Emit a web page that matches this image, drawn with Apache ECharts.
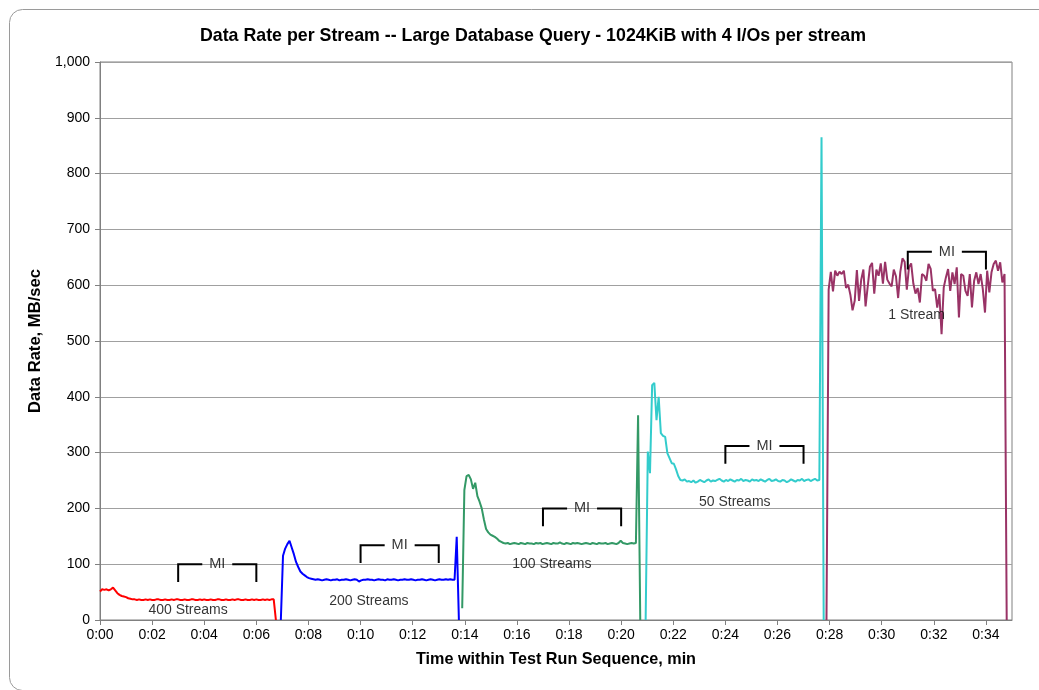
<!DOCTYPE html>
<html>
<head>
<meta charset="utf-8">
<script src="https://cdn.jsdelivr.net/npm/echarts@6/dist/echarts.min.js"></script>
<style>
html,body{margin:0;padding:0;background:#fff;}
#chart{width:1039px;height:690px;}
</style>
</head>
<body>
<div id="chart"></div>
<script>
// ---- data ----
const STEP_MIN = 1 / 12; // 5-second samples, in minutes
const xTickValues = [0, 2, 4, 6, 8, 10, 12, 14, 16, 18, 20, 22, 24, 26, 28, 30, 32, 34];
const seriesNames = ['400 Streams', '200 Streams', '100 Streams', '50 Streams', '1 Stream'];
const seriesColors = ['#ff0000', '#0000ff', '#339966', '#33cccc', '#993366'];
const seriesStart = [0, 6.94, 13.9, 20.94, 27.88]; // minutes

const rate400 = [
  51,55,54,55,53,55,58,53,48,45,
  43,42,41,39,38,37,37,36,37,36,
  36,37,36,37,36,36,37,37,36,36,
  37,36,36,37,36,37,37,36,36,37,
  36,36,37,37,36,36,37,36,37,36,
  36,37,36,36,37,37,36,36,37,36,
  36,37,36,37,37,36,36,37,36,36,
  37,36,37,36,36,37,36,37,36,37,
  37,0
];
const rate200 = [
  0,115,128,136,142,130,118,104,95,87,
  83,80,77,75,74,73,72,73,72,71,
  72,73,72,71,72,72,73,71,72,72,
  73,72,71,72,73,72,69,71,72,72,
  73,72,72,71,72,73,72,72,71,73,
  72,72,73,72,71,72,72,73,72,72,
  73,72,71,72,72,73,72,71,72,73,
  72,71,72,73,72,72,73,72,73,72,
  72,149,0
];
const rate100 = [
  21,233,258,260,252,235,246,222,212,200,
  180,163,157,153,151,149,146,142,140,138,
  137,138,136,137,138,137,136,138,137,136,
  138,137,137,136,138,137,138,136,137,138,
  137,136,138,137,137,139,137,136,138,137,
  136,138,137,138,137,136,137,138,137,136,
  138,137,136,138,137,137,138,136,137,138,
  137,136,138,142,138,137,136,137,138,137,
  138,367,0
];
const rate50 = [
  0,302,263,421,425,358,400,335,330,328,
  299,290,281,280,270,258,251,250,252,248,
  249,247,250,246,248,251,249,247,250,252,
  248,250,249,251,253,250,248,251,249,252,
  250,248,251,250,253,249,251,250,248,252,
  250,251,249,252,250,248,251,253,249,250,
  252,249,248,251,250,247,249,252,250,248,
  251,250,253,249,251,252,249,251,253,250,
  251,865,0
];
const rate1 = [
  0,
  592,624,589,626,617,624,620,626,595,601,
  583,555,572,627,572,610,628,562,598,633,
  640,585,628,617,639,603,642,610,603,598,
  628,616,577,624,648,642,592,632,639,603,
  585,595,569,620,617,608,638,629,590,593,
  560,584,512,596,614,629,590,623,602,632,
  542,620,617,590,581,620,560,608,623,602,
  620,593,551,626,587,623,638,644,626,641,
  605,620,
  0
];
const seriesValues = [rate400, rate200, rate100, rate50, rate1];

// Measurement-interval (MI) brackets
const miStart = [3, 10, 17, 24, 31];
const miEnd = [6, 13, 20, 27, 34];
const miTop = [100, 134, 200, 312, 660];
const miDrop = 32;       // bracket leg length, MB/sec
const miGapHalf = 0.575; // half gap for the "MI" text, minutes

// Stream-count labels
const labelX = [3.38, 10.32, 17.34, 24.36, 31.34];
const labelY = [17, 33, 100, 212, 547];

// ---- build ----
function pad2(n) { return (n < 10 ? '0' : '') + n; }

const lineSeries = seriesValues.map((vals, k) => ({
  name: seriesNames[k],
  type: 'line',
  data: vals.map((v, i) => [seriesStart[k] + i * STEP_MIN, v]),
  symbol: 'none',
  showSymbol: false,
  lineStyle: { color: seriesColors[k], width: 2 },
  itemStyle: { color: seriesColors[k] },
  silent: true,
  z: 3
}));

const bracketData = [];
miStart.forEach((s, k) => {
  const e = miEnd[k], t = miTop[k], c = (s + e) / 2;
  bracketData.push({ coords: [[s, t - miDrop], [s, t], [c - miGapHalf, t]] });
  bracketData.push({ coords: [[c + miGapHalf, t], [e, t], [e, t - miDrop]] });
});

const textStyleBase = { fontFamily: 'Liberation Sans, Arial, sans-serif', color: '#000' };
const hidden = 'rgba(0,0,0,0)';

const chart = echarts.init(document.getElementById('chart'), null, { renderer: 'canvas' });
chart.setOption({
  animation: false,
  backgroundColor: '#fff',
  title: {
    text: 'Data Rate per Stream -- Large Database Query - 1024KiB with 4 I/Os per stream',
    left: 528, top: 22, textAlign: 'center',
    textStyle: Object.assign({}, textStyleBase, { fontSize: 17.8, fontWeight: 'bold' })
  },
  graphic: [{
    type: 'rect', left: 7, top: 7, silent: true, z: -10,
    shape: { width: 1050, height: 681, r: 13 },
    style: { fill: 'none', stroke: '#9a9a9a', lineWidth: 1 }
  }],
  grid: { left: 100, right: 27, top: 62, bottom: 70, show: true, borderColor: '#808080', borderWidth: 1, backgroundColor: 'transparent' },
  xAxis: {
    type: 'value', min: 0, max: 35, interval: 2,
    name: 'Time within Test Run Sequence, min',
    nameLocation: 'middle', nameGap: 32,
    nameTextStyle: Object.assign({}, textStyleBase, { fontSize: 16.2, fontWeight: 'bold' }),
    axisLine: { show: true, onZero: false, lineStyle: { color: '#808080', width: 1 } },
    axisTick: { show: true, inside: false, length: 5, lineStyle: { color: '#808080' }, customValues: xTickValues },
    axisLabel: {
      customValues: xTickValues, margin: 8,
      formatter: v => '0:' + pad2(Math.round(v)),
      ...textStyleBase, fontSize: 14
    },
    splitLine: { show: false }
  },
  yAxis: {
    type: 'value', min: 0, max: 1000, interval: 100,
    name: 'Data Rate, MB/sec',
    nameLocation: 'middle', nameGap: 50, nameRotate: 90,
    nameTextStyle: Object.assign({}, textStyleBase, { fontSize: 16.6, fontWeight: 'bold' }),
    axisLine: { show: true, lineStyle: { color: '#808080', width: 1 } },
    axisTick: { show: true, inside: false, length: 5, lineStyle: { color: '#808080' } },
    axisLabel: {
      margin: 10,
      formatter: v => v.toLocaleString('en-US'),
      ...textStyleBase, fontSize: 14
    },
    splitLine: { show: true, lineStyle: { color: '#a0a0a0', width: 1 } }
  },
  series: lineSeries.concat([
    {
      type: 'lines', coordinateSystem: 'cartesian2d', polyline: true,
      data: bracketData, silent: true, z: 4,
      lineStyle: { color: '#000', width: 2, opacity: 1 }
    },
    {
      type: 'scatter', silent: true, z: 5,
      symbolSize: 1, itemStyle: { color: hidden },
      data: miStart.map((s, k) => [(s + miEnd[k]) / 2, miTop[k]]),
      label: { show: true, position: 'inside', formatter: 'MI', ...textStyleBase, color: '#000', fontSize: 14.5 },
      labelLayout: { hideOverlap: false }
    },
    {
      type: 'scatter', silent: true, z: 5,
      symbolSize: 1, itemStyle: { color: hidden },
      data: labelX.map((x, k) => ({ value: [x, labelY[k]], name: seriesNames[k] })),
      label: { show: true, position: 'inside', formatter: p => p.name, ...textStyleBase, color: '#000', fontSize: 14 },
      labelLayout: { hideOverlap: false }
    }
  ])
});
</script>
</body>
</html>
